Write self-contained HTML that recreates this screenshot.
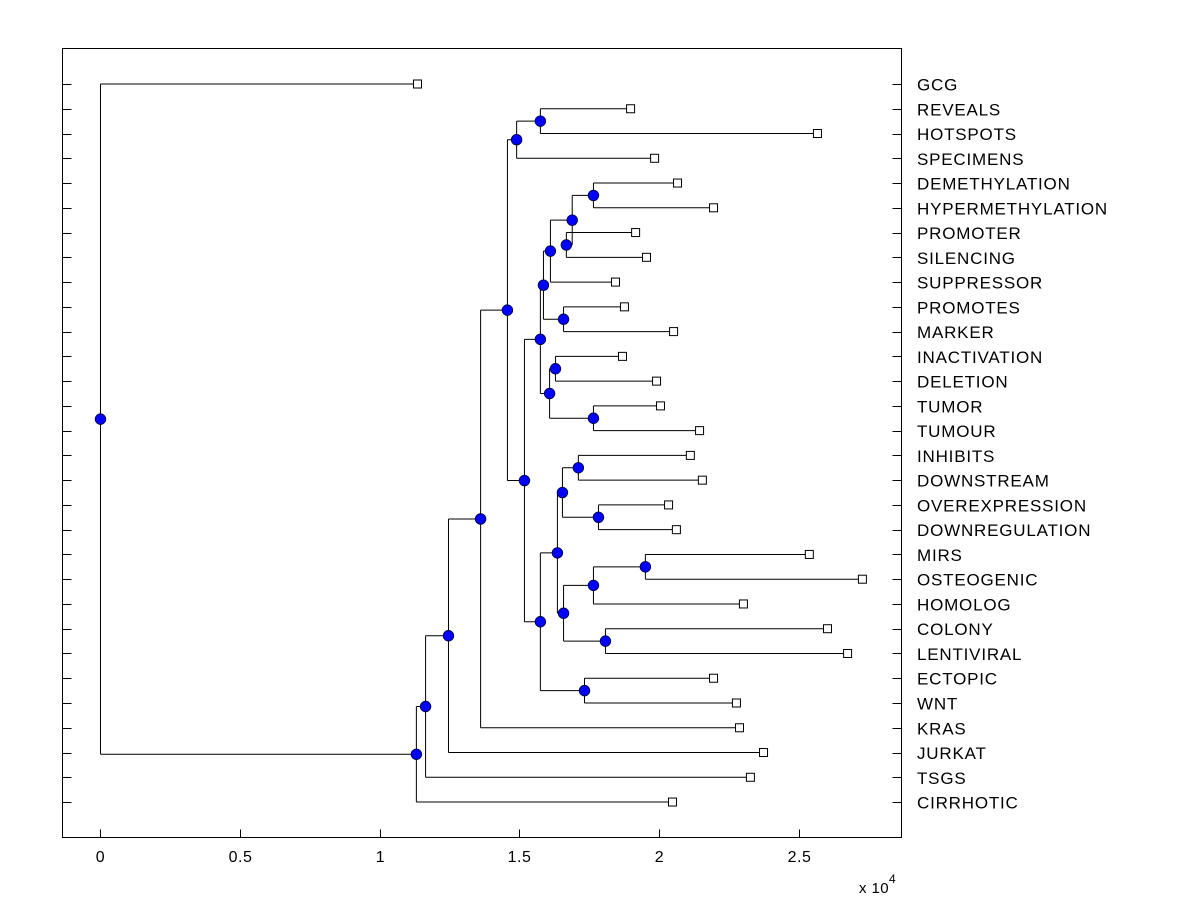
<!DOCTYPE html>
<html><head><meta charset="utf-8"><style>
html,body{margin:0;padding:0;background:#fff;}
svg{display:block;font-family:"Liberation Sans",Arial,sans-serif;}
</style></head><body>
<svg id="chart" width="1200" height="900" xmlns="http://www.w3.org/2000/svg">
<rect x="62.5" y="48.5" width="839" height="789" fill="#fff" stroke="#000" stroke-width="1"/>
<g id="ticks"></g>
<g id="links"></g>
<g id="marks"></g>
<g id="labels"></g>
<text x="859" y="893" font-size="15" letter-spacing="0.4">x 10<tspan dy="-10" font-size="12">4</tspan></text>
</svg>
<script>
const leafNames = ["GCG","REVEALS","HOTSPOTS","SPECIMENS","DEMETHYLATION","HYPERMETHYLATION","PROMOTER","SILENCING","SUPPRESSOR","PROMOTES","MARKER","INACTIVATION","DELETION","TUMOR","TUMOUR","INHIBITS","DOWNSTREAM","OVEREXPRESSION","DOWNREGULATION","MIRS","OSTEOGENIC","HOMOLOG","COLONY","LENTIVIRAL","ECTOPIC","WNT","KRAS","JURKAT","TSGS","CIRRHOTIC"];
const leafValues = [1.135,1.898,2.567,1.984,2.066,2.195,1.916,1.955,1.844,1.876,2.052,1.869,1.991,2.005,2.145,2.112,2.155,2.034,2.062,2.538,2.728,2.302,2.603,2.675,2.195,2.277,2.288,2.374,2.327,2.048];
const nodeNames = ["A","B","C","D","E","F","G","H","I","J","K","L","M","N","O","P","Q","R","S","T","U","V","W","X","Y","Z","AA","BB","ROOT"];
const nodeHeights = [1.575,1.49,1.765,1.668,1.689,1.611,1.658,1.586,1.629,1.765,1.608,1.575,1.711,1.783,1.654,1.951,1.765,1.808,1.658,1.636,1.733,1.575,1.518,1.457,1.361,1.246,1.164,1.131,0];
const nodeChildren = [[1,2],["A",3],[4,5],[6,7],["C","D"],["E",8],[9,10],["F","G"],[11,12],[13,14],["I","J"],["H","K"],[15,16],[17,18],["M","N"],[19,20],["P",21],[22,23],["Q","R"],["O","S"],[24,25],["T","U"],["L","V"],["B","W"],["X",26],["Y",27],["Z",28],["AA",29],[0,"BB"]];
const xTicks = [0,0.5,1,1.5,2,2.5];

const X0=62.5, X1=901.5, Y0=48.5, Y1=837.5;
const xmin=-0.136, xmax=2.868;
const sx = v => X0 + (v - xmin)/(xmax - xmin)*(X1 - X0);
const rowTop=84, rowStep=24.76;
const sy = i => rowTop + i*rowStep;
const NS="http://www.w3.org/2000/svg";
function mk(tag, parent, attrs){const e=document.createElementNS(NS,tag);for(const k in attrs)e.setAttribute(k,attrs[k]);parent.appendChild(e);return e;}
const gT=document.getElementById('ticks'), gL=document.getElementById('links'), gM=document.getElementById('marks'), gLab=document.getElementById('labels');

xTicks.forEach(t=>{
  const x=Math.round(sx(t))+0.5;
  const l=mk('line',gT,{x1:x,x2:x,y1:Y1,y2:Y1-8,stroke:'#000'});
  
  
  const tx=mk('text',gT,{x:x,y:862,'font-size':16,'letter-spacing':0.5,'text-anchor':'middle'});
  tx.textContent=String(t);
  
  
});
leafNames.forEach((n,i)=>{
  const y=Math.round(sy(i))+0.5;
  const a=mk('line',gT,{x1:X0,x2:X0+9,y1:y,y2:y,stroke:'#000'});
  
  
  const b=mk('line',gT,{x1:X1-9,x2:X1,y1:y,y2:y,stroke:'#000'});
  
  
  const t=mk('text',gLab,{x:917,y:sy(i)+6.5,'font-size':17,'letter-spacing':0.8});
  t.textContent=n;
  
  
});

const pos={};
leafValues.forEach((v,i)=>{pos[i]={x:sx(v),y:sy(i),leaf:true};});
nodeNames.forEach((n,k)=>{
  const [a,b]=nodeChildren[k].map(c=>pos[c]);
  const x=sx(nodeHeights[k]);
  const y=(a.y+b.y)/2;
  pos[n]={x,y,leaf:false};
  [a,b].forEach(c=>{
    const h=mk('line',gL,{x1:x,x2:c.x,y1:c.y,y2:c.y,stroke:'#000','stroke-width':1});
    
    
  });
  const v=mk('line',gL,{x1:x,x2:x,y1:a.y,y2:b.y,stroke:'#000','stroke-width':1});
  
  
});
leafValues.forEach((v,i)=>{
  const p=pos[i];
  const r=mk('rect',gM,{x:p.x-4,y:p.y-4,width:8,height:8,fill:'#fff',stroke:'#000','stroke-width':1});
  
  
});
nodeNames.forEach(n=>{
  const p=pos[n];
  const c=mk('circle',gM,{cx:p.x,cy:p.y,r:5.3,fill:'#0000ff',stroke:'#000033','stroke-width':0.8});
  
  
});
</script>
</body></html>
